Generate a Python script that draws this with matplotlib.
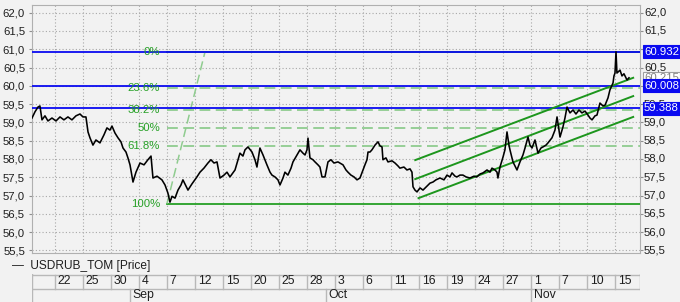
import matplotlib
matplotlib.use('Agg')
import matplotlib.pyplot as plt
from matplotlib.ticker import FuncFormatter
import matplotlib.transforms as mtransforms

plt.rcParams['font.family'] = ['Liberation Sans', 'DejaVu Sans']

# price trace (x = trading-day index, 0 = 22 Aug)
idx = [-2.46, -2.14, -1.82, -1.61, -1.39, -1.07, -0.75, -0.32, 0.11, 0.54, 0.96, 1.39, 1.82, 2.25, 2.68, 3.0,
       3.32, 3.54, 3.75, 4.07, 4.39, 4.82, 5.25, 5.57, 5.89, 6.11, 6.43, 6.75, 7.07, 7.29, 7.61, 7.82,
       8.04, 8.36, 8.68, 9.11, 9.54, 9.96, 10.29, 10.5, 10.93, 11.46, 11.79, 12.1, 12.32, 12.54, 12.86, 13.18,
       13.5, 13.71, 14.04, 14.25, 14.68, 15.21, 15.54, 15.96, 16.39, 16.71, 17.04, 17.36, 17.68, 18.11, 18.43, 18.75,
       19.29, 19.61, 19.82, 20.14, 20.36, 20.68, 21.11, 21.43, 21.64, 21.96, 22.29, 22.71, 23.04, 23.25, 23.57, 23.89,
       24.11, 24.43, 24.64, 24.96, 25.29, 25.5, 25.93, 26.25, 26.57, 26.79, 27.0, 27.11, 27.32, 27.64, 27.86, 28.18,
       28.39, 28.61, 28.93, 29.25, 29.57, 29.89, 30.32, 30.86, 31.18, 31.39, 31.71, 32.04, 32.36, 32.68, 33.0, 33.21,
       33.43, 33.54, 33.75, 33.96, 34.29, 34.61, 34.82, 35.04, 35.14, 35.46, 35.68, 36.11, 36.43, 36.75, 36.96, 37.39,
       37.71, 38.04, 38.25, 38.36, 38.57, 38.79, 39.11, 39.43, 39.86, 40.18, 40.5, 40.82, 41.25, 41.68, 42.0, 42.32,
       42.54, 42.86, 43.07, 43.39, 43.71, 44.04, 44.46, 44.89, 45.21, 45.54, 45.86, 46.29, 46.61, 46.82, 47.14, 47.36,
       47.46, 47.68, 48.0, 48.21, 48.43, 48.64, 48.75, 49.07, 49.29, 49.5, 49.82, 50.14, 50.36, 50.68, 50.89, 51.11,
       51.43, 51.75, 52.07, 52.29, 52.61, 52.82, 53.25, 53.57, 53.79, 54.11, 54.43, 54.64, 54.86, 55.18, 55.5, 55.82,
       56.14, 56.46, 56.79, 57.11, 57.32, 57.54, 57.86, 58.07, 58.39, 58.71, 58.93, 59.25, 59.46, 59.79, 59.89, 60.0,
       60.11, 60.21, 60.54, 60.75, 60.96, 61.29, 61.5]
price = [59.12, 59.29, 59.42, 59.45, 59.07, 59.18, 59.04, 59.12, 59.04, 59.15, 59.07, 59.15, 59.07, 59.18, 59.23, 59.15,
         59.15, 58.74, 58.58, 58.38, 58.52, 58.44, 58.66, 58.85, 58.79, 58.90, 58.71, 58.58, 58.47, 58.30, 58.19, 58.03,
         57.84, 57.37, 57.64, 57.89, 57.84, 57.98, 58.08, 57.48, 57.53, 57.43, 57.29, 57.07, 56.82, 56.98, 56.93, 57.15,
         57.29, 57.43, 57.26, 57.15, 57.32, 57.51, 57.64, 57.75, 57.89, 57.98, 57.89, 57.92, 57.48, 57.56, 57.64, 57.51,
         57.70, 57.98, 58.16, 58.08, 58.25, 58.33, 58.19, 57.98, 57.78, 58.30, 58.11, 57.84, 57.64, 57.56, 57.51, 57.43,
         57.29, 57.48, 57.64, 57.56, 57.75, 57.92, 58.11, 58.25, 58.16, 58.11, 58.25, 58.57, 58.03, 57.98, 57.92, 57.84,
         57.78, 57.51, 57.51, 57.92, 57.98, 57.89, 57.92, 57.84, 57.70, 57.64, 57.56, 57.51, 57.43, 57.48, 57.70, 57.84,
         57.98, 58.19, 58.19, 58.25, 58.38, 58.47, 58.36, 58.33, 57.98, 58.03, 57.92, 57.95, 57.89, 57.81, 57.75, 57.78,
         57.70, 57.73, 57.64, 57.24, 57.15, 57.10, 57.21, 57.15, 57.26, 57.34, 57.37, 57.43, 57.48, 57.43, 57.56, 57.51,
         57.62, 57.53, 57.51, 57.56, 57.56, 57.51, 57.48, 57.53, 57.51, 57.59, 57.62, 57.70, 57.64, 57.75, 57.70, 57.64,
         57.48, 57.78, 58.05, 58.25, 58.74, 58.38, 58.25, 57.92, 57.81, 57.70, 57.92, 58.11, 58.30, 58.60, 58.38, 58.30,
         58.52, 58.16, 58.30, 58.33, 58.38, 58.44, 58.58, 58.79, 59.15, 58.60, 58.88, 59.12, 59.42, 59.26, 59.34, 59.23,
         59.34, 59.26, 59.31, 59.20, 59.12, 59.07, 59.18, 59.20, 59.53, 59.45, 59.47, 59.67, 59.89, 60.08, 60.27, 60.35,
         60.93, 60.35, 60.43, 60.27, 60.33, 60.16, 60.22]
last_price = 60.215

# fibonacci retracement
fib_x = [12.0, 16.08]
fib_low, fib_high = 56.78, 60.932
fib_pct = [0, 23.6, 38.2, 50, 61.8, 100]

# horizontal levels
h_levels = [60.932, 60.008, 59.388]

# channel lines
chan_x = [38.6, 61.95]
chan_upper = [57.97, 60.22]
chan_mid = [57.45, 59.72]
chan_low_x = [38.95, 61.95]
chan_low = [56.93, 59.15]

tick_pos = list(range(0, 61, 3))
tick_labels = ['22', '25', '30', '4', '7', '12', '15', '20', '25', '28', '3', '6', '11', '16', '19', '24',
               '27', '1', '7', '10', '15']
month_pos = [8, 29, 51]
month_labels = ['Sep', 'Oct', 'Nov']

W, H = 680, 302
bg = '#f2f2f2'
green = '#26a026'
light_green = '#8fcc8f'
blue = '#0a0af0'
txt = '#1e1e1e'
fs = 8.2

fig = plt.figure(figsize=(W / 100, H / 100), dpi=100, facecolor=bg)
ax = fig.add_axes([32 / W, (H - 253) / H, 608 / W, 248 / H], facecolor=bg)
xmin, xmax = -2.46, 62.68
ax.set_xlim(xmin, xmax)
ax.set_ylim(55.43, 62.21)

yt = [55.5 + 0.5 * i for i in range(14)]
fmt = lambda v: f'{v:.1f}'.replace('.', ',')
ax.set_yticks(yt)
ax.yaxis.set_major_formatter(FuncFormatter(lambda v, p: fmt(v)))
ax.tick_params(axis='y', left=True, right=True, labelleft=True, labelright=False,
               labelsize=fs, labelcolor=txt, color='#909090', length=2, pad=3)
ax.set_xticks(tick_pos)
ax.tick_params(axis='x', bottom=False, labelbottom=False)
ax.grid(True, color='#a8a8a8', linestyle=(0, (1, 2)), linewidth=0.8)
for s in ax.spines.values():
    s.set_color('#b0b0b0')
    s.set_linewidth(0.8)

tr = mtransforms.blended_transform_factory(ax.transAxes, ax.transData)
# right-side labels (61,0 and 60,0 sit under the value boxes)
for v in yt:
    if v in (61.0, 60.0):
        continue
    ax.text(1 + 4 / 608, v, fmt(v), transform=tr, ha='left', va='center', fontsize=fs,
            color=txt, clip_on=False, zorder=2)

# fib lines
rng = fib_high - fib_low
for p in fib_pct:
    lv = fib_high - rng * p / 100
    if p in (0, 100):
        ax.plot([fib_x[0], xmax], [lv, lv], color=green, lw=1.3, zorder=3)
    else:
        ax.plot([fib_x[0], xmax], [lv, lv], color=light_green, lw=1.3, dashes=(6, 3), zorder=3)
    ax.annotate(f'{p:g}%', (fib_x[0], lv), xytext=(-5, 0), textcoords='offset points',
                ha='right', va='center', color=green, fontsize=fs, zorder=6)
ax.plot(fib_x, [fib_low, fib_high], color=light_green, lw=1.1, dashes=(6, 3), zorder=3)

for lv in h_levels:
    ax.axhline(lv, color=blue, lw=1.3, zorder=4)

for xs, ys in [(chan_x, chan_upper), (chan_x, chan_mid), (chan_low_x, chan_low)]:
    ax.plot(xs, ys, color='#1d961d', lw=1.4, zorder=4)

ax.plot(idx, price, color='black', lw=1.15, zorder=5)

# value boxes on the right axis
ax.text(1 + 4 / 608, last_price, '60.215', transform=tr, ha='left', va='center', fontsize=fs,
        color='#808080', clip_on=False, zorder=6,
        bbox=dict(boxstyle='square,pad=0.12', fc='white', ec='#a0a0a0', lw=0.8))
for lv in h_levels:
    ax.text(1 + 4 / 608, lv, f'{lv:.3f}', transform=tr, ha='left', va='center', fontsize=fs,
            color='white', clip_on=False, zorder=7,
            bbox=dict(boxstyle='square,pad=0.12', fc=blue, ec=blue, lw=0.8))

# legend line
fig.text(12 / W, 1 - 266 / H, '—  USDRUB_TOM [Price]', ha='left', va='center', fontsize=fs + 0.4, color=txt)

# date axis
axd = fig.add_axes([32 / W, 0, 608 / W, 28 / H], facecolor=bg)
axd.set_xlim(xmin, xmax)
axd.set_ylim(0, 28)
axd.axis('off')
axd.plot([xmin, xmax], [27.5, 27.5], color='#b8b8b8', lw=1)
axd.plot([xmin, xmax], [13.5, 13.5], color='#b8b8b8', lw=1)
axd.plot([xmin, xmin], [0, 28], color='#b8b8b8', lw=1)
axd.plot([xmax, xmax], [13.5, 28], color='#b8b8b8', lw=1)
for p, lab in zip(tick_pos, tick_labels):
    axd.plot([p, p], [13.5, 27.5], color='#b8b8b8', lw=1)
    axd.text(p + 0.3, 20.5, lab, ha='left', va='center', fontsize=fs + 0.6, color=txt)
for p, lab in zip(month_pos, month_labels):
    axd.plot([p, p], [0, 13.5], color='#b8b8b8', lw=1)
    axd.text(p + 0.3, 7, lab, ha='left', va='center', fontsize=fs + 0.6, color=txt)

fig.savefig('out.png', dpi=100, facecolor=bg)
